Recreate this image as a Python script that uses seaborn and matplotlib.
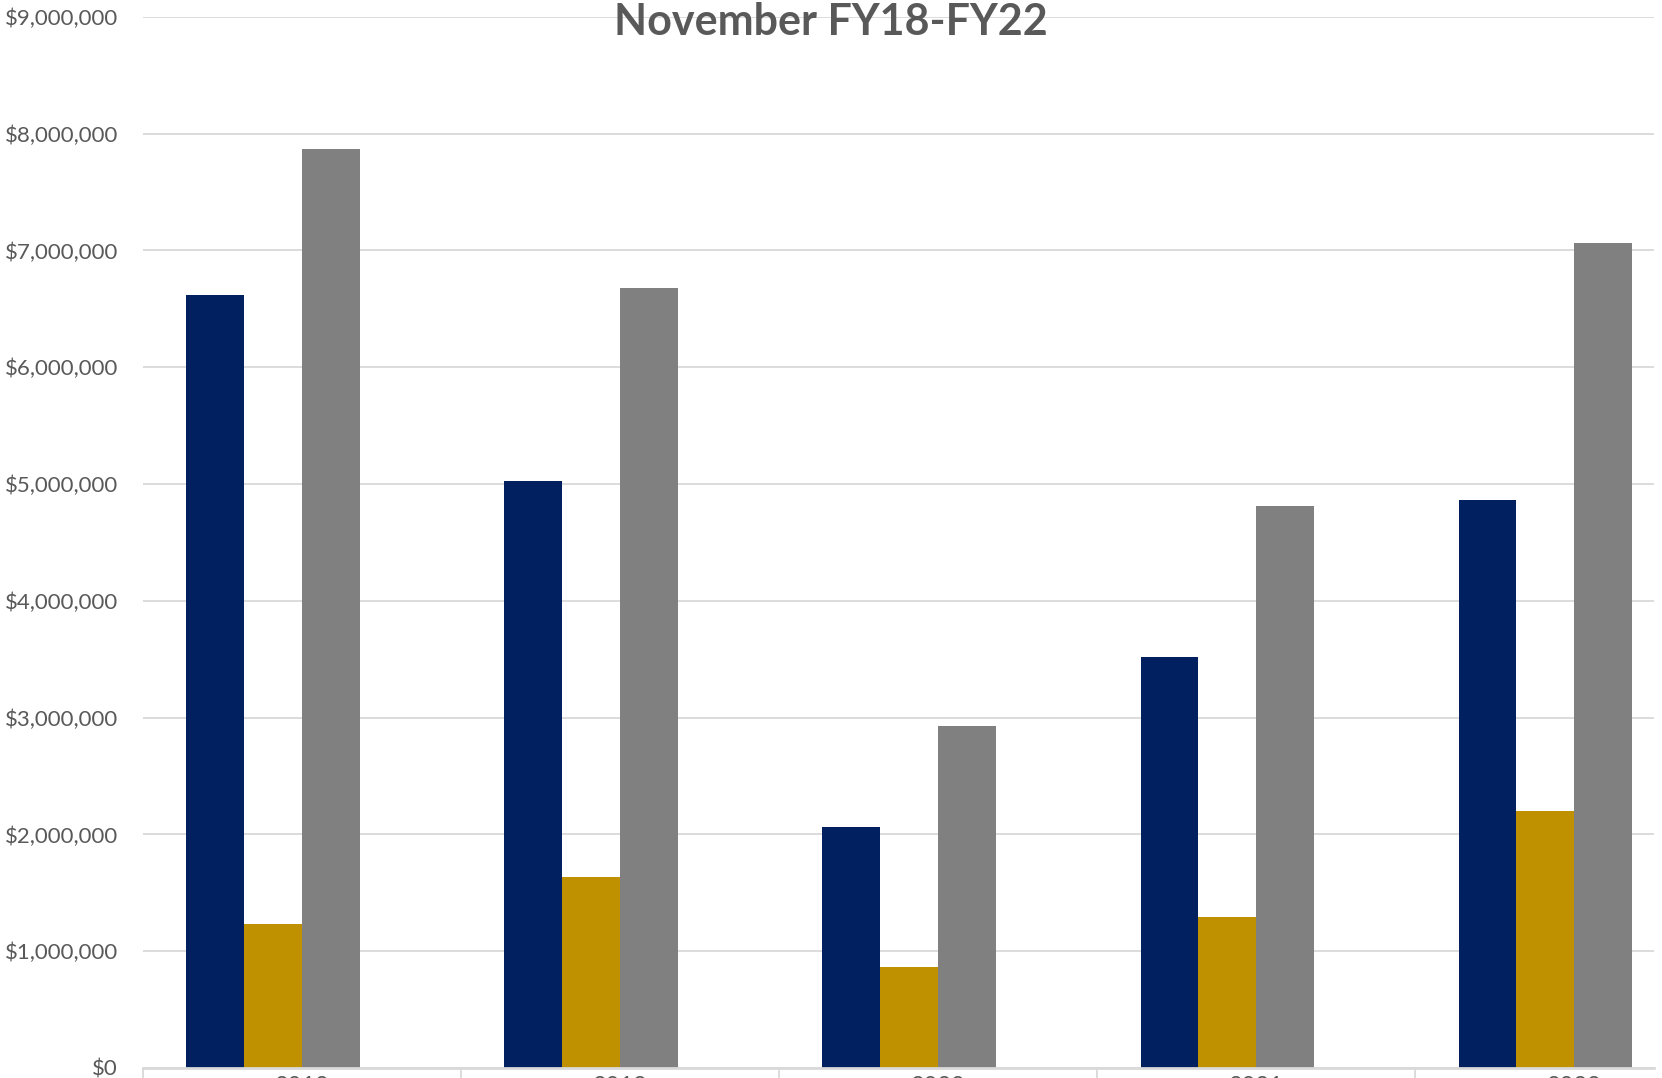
"""November FY18-FY22 grouped bar chart."""
import matplotlib
matplotlib.use("Agg")
import matplotlib.pyplot as plt
import pandas as pd
import seaborn as sns
from matplotlib.ticker import FuncFormatter, FixedLocator

years = ["2018", "2019", "2020", "2021", "2022"]
# the fourth series is empty but still takes a slot in each group
series_names = ["Series A", "Series B", "Total", "Empty"]
series_a = [6620000, 5030000, 2060000, 3515000, 4860000]
series_b = [1235000, 1635000, 863000, 1290000, 2200000]
total = [7865000, 6675000, 2925000, 4810000, 7060000]
empty = [0, 0, 0, 0, 0]
colors = ["#002060", "#BF9000", "#808080", "#FFFFFF"]

df = pd.DataFrame({
    "year": years * 4,
    "series": [s for s in series_names for _ in years],
    "value": series_a + series_b + total + empty,
})

sns.set_theme(style="white")
plt.rcParams["font.family"] = ["Lato", "DejaVu Sans"]

fig = plt.figure(figsize=(16.62, 10.78), dpi=100)
ax = fig.add_axes([0.086, 0.0093, 0.909, 0.975])

sns.barplot(data=df, x="year", y="value", hue="series", order=years,
            hue_order=series_names, palette=colors, width=0.727,
            saturation=1, edgecolor="none", legend=False, ax=ax)

ax.yaxis.set_major_locator(FixedLocator(range(0, 9000001, 1000000)))
ax.yaxis.set_major_formatter(FuncFormatter(lambda v, _: f"${v:,.0f}"))
ax.grid(axis="y", color="#D9D9D9", linewidth=1.3)
ax.set_axisbelow(True)
for side in ["top", "right", "left"]:
    ax.spines[side].set_visible(False)
ax.spines["bottom"].set_color("#D9D9D9")
ax.spines["bottom"].set_linewidth(2)

ax.tick_params(axis="y", length=0, pad=18, labelsize=16, labelcolor="#595959")
ax.tick_params(axis="x", which="major", length=0, pad=6, labelsize=17,
               labelcolor="#595959")
ax.set_xticks([i - 0.5 for i in range(len(years) + 1)], minor=True)
ax.tick_params(axis="x", which="minor", bottom=True, length=14,
               color="#D9D9D9", width=1.3, direction="out")
ax.set_xlabel("")
ax.set_ylabel("")

# limits last, set_xticks can widen the view
ax.set_ylim(0, 9000000)
ax.set_xlim(-0.5, 4.25)

fig.text(0.5, 0.98, "November FY18-FY22", ha="center", va="center",
         fontsize=31, fontweight="bold", color="#595959")

fig.savefig("out.png", dpi=100)
